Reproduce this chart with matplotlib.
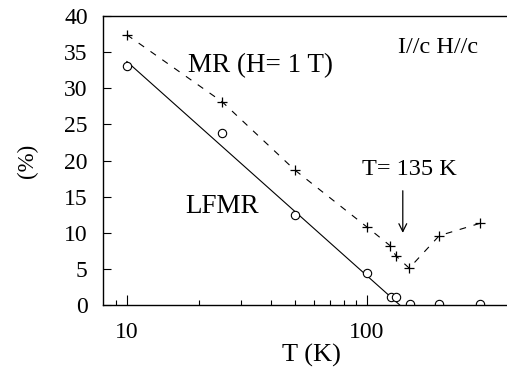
import matplotlib
matplotlib.use("Agg")
import matplotlib.pyplot as plt
from matplotlib.ticker import FixedLocator, NullFormatter

plt.rcParams["font.family"] = ["Liberation Serif", "DejaVu Serif"]

# MR (H = 1 T), crosses
mr_T = [10, 25, 50, 100, 125, 132, 150, 200, 295]
mr_val = [37.4, 28.1, 18.7, 10.8, 8.2, 6.8, 5.1, 9.6, 11.3]

# LFMR, open circles
lf_T = [10, 25, 50, 100, 126, 132, 151, 200, 295]
lf_val = [33.1, 23.8, 12.5, 4.5, 1.15, 1.15, 0.1, 0.1, 0.1]

# straight fit drawn through the LFMR points
fit_T = [10, 137]
fit_val = [33.7, 0.0]

x_major = [10, 100]
x_minor = [9, 20, 30, 40, 50, 60, 70, 80, 90]
y_major = [0, 5, 10, 15, 20, 25, 30, 35, 40]


def main():
    fig = plt.figure(figsize=(5.07, 3.72), dpi=100)
    ax = fig.add_axes([0.203, 0.180, 0.797, 0.777])

    ax.plot(mr_T, mr_val, color="black", lw=0.8, ls=(0, (6, 7)))
    ax.plot(mr_T, mr_val, ls="none", marker="+", ms=7, mew=0.9, color="black")
    ax.plot(fit_T, fit_val, color="black", lw=0.8)
    ax.plot(lf_T, lf_val, ls="none", marker="o", ms=6, mfc="white",
            mec="black", mew=0.8)

    ax.set_xscale("log")
    ax.set_xlim(7.95, 383)
    ax.set_ylim(0, 40)

    ax.xaxis.set_major_locator(FixedLocator(x_major))
    ax.xaxis.set_minor_locator(FixedLocator(x_minor))
    ax.xaxis.set_minor_formatter(NullFormatter())
    ax.set_xticklabels(["10", "100"])
    ax.set_yticks(y_major)

    ax.tick_params(which="major", direction="in", length=7, width=0.8,
                   labelsize=17)
    ax.tick_params(which="minor", direction="in", length=3.6, width=0.8)
    ax.tick_params(axis="x", which="major", pad=12)
    ax.tick_params(axis="y", which="major", length=6, pad=11)
    ax.tick_params(top=False, right=False, which="both")

    for side in ["left", "bottom", "top"]:
        ax.spines[side].set_linewidth(1.0)
    ax.spines["right"].set_visible(False)

    ax.set_xlabel("T (K)", fontsize=19)
    ax.xaxis.set_label_coords(0.515, -0.135)
    ax.set_ylabel("(%)", fontsize=16.5)
    ax.yaxis.set_label_coords(-0.16, 0.5)

    ax.text(0.210, 0.806, "MR (H= 1 T)", transform=ax.transAxes,
            fontsize=19.5, ha="left", va="baseline")
    ax.text(0.203, 0.318, "LFMR", transform=ax.transAxes,
            fontsize=19.5, ha="left", va="baseline")
    ax.text(0.641, 0.450, "T= 135 K", transform=ax.transAxes,
            fontsize=17.5, ha="left", va="baseline")
    ax.text(0.730, 0.872, "I//c H//c", transform=ax.transAxes,
            fontsize=17.5, ha="left", va="baseline")

    ax.annotate("", xy=(141, 9.6), xytext=(141, 16.2),
                arrowprops=dict(arrowstyle="->", lw=0.9, color="black",
                                mutation_scale=14))

    fig.savefig("out.png", dpi=100)


if __name__ == "__main__":
    main()
